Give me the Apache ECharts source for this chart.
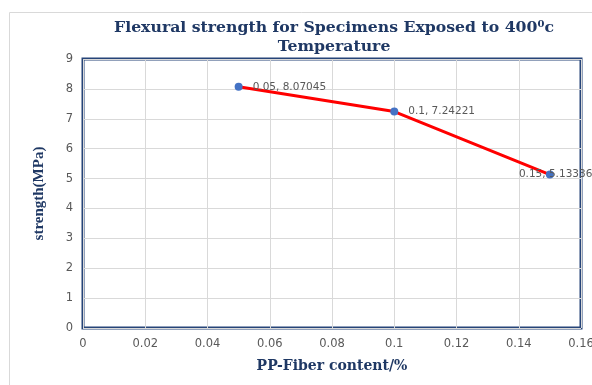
<!DOCTYPE html>
<html>
<head>
<meta charset="utf-8">
<script src="https://cdn.jsdelivr.net/npm/echarts@6/dist/echarts.min.js"></script>
<style>
  html, body { margin: 0; padding: 0; background: #fff; }
  #chart { width: 592px; height: 385px; }
</style>
</head>
<body>
<div id="chart"></div>
<script>
// 数据
const fiberContent = [0.05, 0.1, 0.15]
const strength = [8.07045, 7.24221, 5.13336]
const pointLabels = ['0.05, 8.07045', '0.1, 7.24221', '0.15, 5.13336']
const titleLines = ['Flexural strength for Specimens Exposed to 400{sup|0}c', 'Temperature']
const xTicks = { min: 0, max: 0.16, interval: 0.02 }
const yTicks = { min: 0, max: 9, interval: 1 }

const navy = '#1F3864'
const serif = '"DejaVu Serif", "Liberation Serif", serif'
const sans = '"DejaVu Sans", "Liberation Sans", sans-serif'

const chart = echarts.init(document.getElementById('chart'))

const seriesData = fiberContent.map((x, i) => {
  const item = { value: [x, strength[i]], label: { formatter: pointLabels[i] } }
  // 最后一个标签压在点上
  if (i === fiberContent.length - 1) {
    item.label.offset = [-45, 0]
  }
  return item
})

const titleStyle = {
  fontFamily: serif,
  fontWeight: 'bold',
  fontSize: 15.7,
  color: navy,
  rich: {
    sup: {
      fontFamily: serif,
      fontWeight: 'bold',
      fontSize: 10,
      color: navy,
      verticalAlign: 'top',
      padding: [0, 0, 8, 0]
    }
  }
}

chart.setOption({
  animation: false,
  graphic: [
    {
      type: 'rect',
      shape: { x: 9.5, y: 12.5, width: 640, height: 420 },
      style: { fill: 'none', stroke: '#D9D9D9', lineWidth: 1 },
      z: -1
    }
  ],
  // 标题居中于绘图区
  title: [
    { text: titleLines[0], left: 334, textAlign: 'center', top: 19, padding: 0, textStyle: titleStyle },
    { text: titleLines[1], left: 334, textAlign: 'center', top: 39, padding: 0, textStyle: titleStyle }
  ],
  grid: {
    left: 83,
    right: 11,
    top: 59,
    bottom: 57,
    show: true,
    borderColor: '#264478',
    borderWidth: 3,
    containLabel: false,
    outerBoundsMode: 'none'
  },
  xAxis: {
    type: 'value',
    min: xTicks.min,
    max: xTicks.max,
    interval: xTicks.interval,
    name: 'PP-Fiber content/%',
    nameLocation: 'middle',
    nameGap: 31,
    nameTextStyle: { fontFamily: serif, fontWeight: 'bold', fontSize: 14, color: navy },
    axisLine: { show: false },
    axisTick: { show: false },
    axisLabel: { fontFamily: sans, fontSize: 11.5, color: '#595959', margin: 10 },
    splitLine: { show: true, lineStyle: { color: '#D9D9D9', width: 1 } }
  },
  yAxis: {
    type: 'value',
    min: yTicks.min,
    max: yTicks.max,
    interval: yTicks.interval,
    name: 'strength(MPa)',
    nameLocation: 'middle',
    nameGap: 36,
    nameTextStyle: { fontFamily: '"Liberation Serif", serif', fontWeight: 'bold', fontSize: 15, color: navy },
    axisLine: { show: false },
    axisTick: { show: false },
    axisLabel: { fontFamily: sans, fontSize: 11.5, color: '#595959', margin: 10 },
    splitLine: { show: true, lineStyle: { color: '#D9D9D9', width: 1 } }
  },
  series: [
    {
      type: 'line',
      data: seriesData,
      symbol: 'circle',
      symbolSize: 8,
      itemStyle: { color: '#4472C4' },
      lineStyle: { color: '#FF0000', width: 3 },
      label: {
        show: true,
        position: 'right',
        distance: 10,
        fontFamily: sans,
        fontSize: 10.5,
        color: '#595959'
      }
    }
  ]
})
</script>
</body>
</html>
